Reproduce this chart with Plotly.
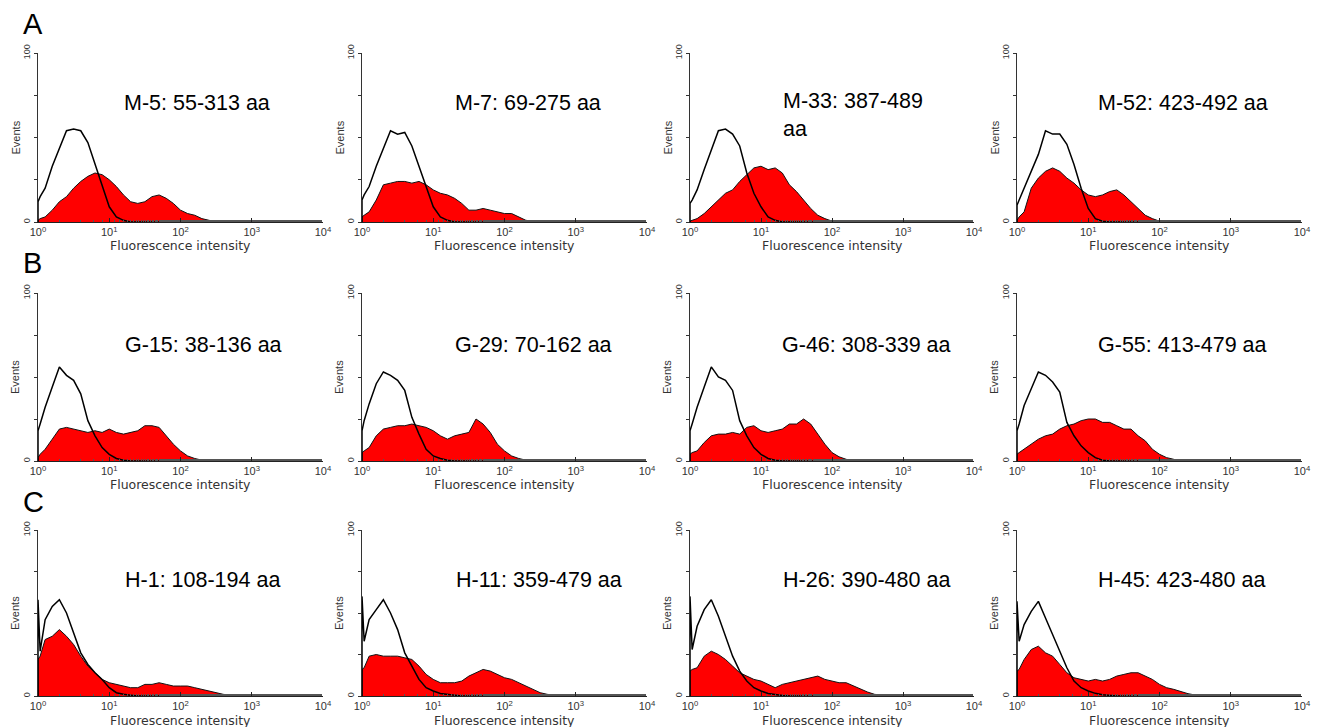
import plotly.graph_objects as go

# ---------------- data ----------------
# bin positions in log10(fluorescence intensity)
log_bins = [0, 0.03, 0.1, 0.2, 0.3, 0.4, 0.5, 0.6, 0.7, 0.8, 0.9, 1.0, 1.1, 1.2, 1.3,
            1.4, 1.5, 1.6, 1.7, 1.8, 1.9, 2.0, 2.1, 2.2, 2.3, 2.4, 2.5, 2.6, 2.7, 2.8]

panel_letters = ["A", "B", "C"]
panel_titles = [
    "M-5: 55-313 aa", "M-7: 69-275 aa", "M-33: 387-489<br>aa", "M-52: 423-492 aa",
    "G-15: 38-136 aa", "G-29: 70-162 aa", "G-46: 308-339 aa", "G-55: 413-479 aa",
    "H-1: 108-194 aa", "H-11: 359-479 aa", "H-26: 390-480 aa", "H-45: 423-480 aa",
]
x_tick_values = [1, 10, 100, 1000, 10000]
x_tick_labels = ["10<sup>0</sup>", "10<sup>1</sup>", "10<sup>2</sup>", "10<sup>3</sup>", "10<sup>4</sup>"]
y_tick_values = [0, 100]
y_tick_labels = ["0", "100"]
y_minor_values = [25, 50, 75]

# control (isotype) histograms - black outline
m5_control = [12, 15, 20, 33, 44, 54, 55, 54, 47, 34, 21, 9, 3, 1, 0, 0, 0, 0, 0, 0, 0, 0, 0, 0, 0, 0, 0, 0, 0, 0]
m7_control = [13, 16, 21, 33, 43, 54, 52, 53, 45, 33, 21, 9, 3, 1, 0, 0, 0, 0, 0, 0, 0, 0, 0, 0, 0, 0, 0, 0, 0, 0]
m33_control = [11, 13, 19, 31, 43, 54, 55, 52, 45, 29, 17, 9, 3, 1, 0, 0, 0, 0, 0, 0, 0, 0, 0, 0, 0, 0, 0, 0, 0, 0]
m52_control = [10, 13, 20, 30, 40, 54, 52, 52, 46, 34, 20, 8, 2, 0.5, 0, 0, 0, 0, 0, 0, 0, 0, 0, 0, 0, 0, 0, 0, 0, 0]
g15_control = [18, 22, 32, 44, 56, 51, 48, 40, 24, 15, 8, 4, 1.5, 0.5, 0, 0, 0, 0, 0, 0, 0, 0, 0, 0, 0, 0, 0, 0, 0, 0]
g29_control = [18, 24, 34, 46, 53, 51, 48, 42, 26, 16, 7, 3, 1.5, 0.5, 0, 0, 0, 0, 0, 0, 0, 0, 0, 0, 0, 0, 0, 0, 0, 0]
g46_control = [18, 22, 32, 44, 56, 50, 48, 42, 24, 15, 8, 4, 1.5, 0.5, 0, 0, 0, 0, 0, 0, 0, 0, 0, 0, 0, 0, 0, 0, 0, 0]
g55_control = [18, 22, 33, 43, 53, 51, 47, 41, 23, 15, 9, 5, 2, 0.5, 0, 0, 0, 0, 0, 0, 0, 0, 0, 0, 0, 0, 0, 0, 0, 0]
h1_control = [58, 27, 46, 54, 58, 50, 38, 26, 19, 14, 10, 5, 2, 1, 0.5, 0, 0, 0, 0, 0, 0, 0, 0, 0, 0, 0, 0, 0, 0, 0]
h11_control = [60, 33, 46, 52, 58, 50, 40, 26, 18, 10, 5, 3, 1.5, 0.8, 0.5, 0, 0, 0, 0, 0, 0, 0, 0, 0, 0, 0, 0, 0, 0, 0]
h26_control = [60, 28, 42, 52, 58, 48, 36, 24, 15, 9, 5, 3, 1.5, 0.8, 0.3, 0, 0, 0, 0, 0, 0, 0, 0, 0, 0, 0, 0, 0, 0, 0]
h45_control = [57, 33, 43, 51, 57, 47, 37, 27, 17, 9, 5, 3, 1.6, 0.8, 0.3, 0, 0, 0, 0, 0, 0, 0, 0, 0, 0, 0, 0, 0, 0, 0]

# antibody-stained histograms - red filled
m5_sample = [1, 2, 3, 7, 12, 15, 20, 24, 27, 29, 28, 25, 21, 16, 12, 11, 12, 15, 16, 14, 11, 7, 5, 4, 2, 1, 0, 0, 0, 0]
m7_sample = [3, 4, 6, 13, 22, 23, 24, 24, 23, 24, 22, 19, 17, 16, 14, 11, 7, 7, 8, 7, 6, 5, 5, 3, 1, 0.5, 0, 0, 0, 0]
m33_sample = [0.5, 1, 2, 5, 9, 13, 17, 19, 24, 28, 32, 33, 31, 32, 29, 22, 18, 13, 8, 4, 2, 0.5, 0, 0, 0, 0, 0, 0, 0, 0]
m52_sample = [1, 3, 6, 20, 26, 30, 32, 30, 26, 23, 19, 16, 15, 16, 18, 19, 16, 12, 8, 4, 2, 0.5, 0, 0, 0, 0, 0, 0, 0, 0]
g15_sample = [2, 4, 7, 13, 19, 20, 19, 18, 17, 18, 17, 19, 17, 16, 17, 18, 21, 21, 20, 15, 10, 6, 3, 1.5, 0.5, 0, 0, 0, 0, 0]
g29_sample = [5, 6, 8, 15, 19, 20, 21, 21, 22, 21, 20, 18, 15, 13, 15, 16, 17, 25, 22, 17, 10, 6, 3, 1.5, 0.5, 0, 0, 0, 0, 0]
g46_sample = [4, 5, 6, 11, 15, 16, 16, 17, 16, 20, 21, 18, 17, 18, 19, 22, 22, 25, 22, 16, 10, 5, 2.5, 1, 0, 0, 0, 0, 0, 0]
g55_sample = [4, 5, 7, 10, 13, 15, 16, 19, 21, 22, 24, 25, 25, 23, 23, 21, 19, 19, 15, 12, 7, 4, 2, 1, 0, 0, 0, 0, 0, 0]
h1_sample = [22, 24, 34, 36, 40, 36, 31, 24, 18, 14, 10, 8, 7, 6, 5, 5, 7, 7, 8, 7, 6, 6, 6, 5, 4, 3, 2, 1, 0.5, 0]
h11_sample = [16, 17, 24, 25, 24, 24, 24, 23, 22, 18, 13, 10, 8, 8, 8, 9, 12, 14, 16, 15, 13, 11, 10, 8, 6, 4, 2, 1, 0.4, 0]
h26_sample = [15, 16, 17, 24, 27, 25, 22, 18, 14, 12, 10, 9, 7, 5, 7, 8, 9, 10, 11, 12, 10, 9, 8, 8, 6, 4, 2.4, 1, 0.4, 0]
h45_sample = [15, 16, 22, 28, 30, 26, 24, 19, 14, 11, 10, 9, 10, 9, 10, 12, 13, 14, 14, 12, 10, 7, 5, 4, 2.6, 1.4, 0.6, 0.2, 0, 0]

controls = [m5_control, m7_control, m33_control, m52_control,
            g15_control, g29_control, g46_control, g55_control,
            h1_control, h11_control, h26_control, h45_control]
samples = [m5_sample, m7_sample, m33_sample, m52_sample,
           g15_sample, g29_sample, g46_sample, g55_sample,
           h1_sample, h11_sample, h26_sample, h45_sample]

# ---------------- layout geometry (screen pixels) ----------------
PAGE_W, PAGE_H = 1330, 727
BODY_MARGIN = 8  # default page margin around the plot div
W, H = PAGE_W - BODY_MARGIN, PAGE_H - BODY_MARGIN
col_px = [(38, 323), (362, 647), (690, 974), (1017, 1302)]
row_px = [(53, 222), (293, 461), (530, 696)]
title_px = [(122, 103), (453, 103), (781, 115), (1096, 103),
            (123, 345), (453, 345), (780, 345), (1096, 345),
            (123, 580), (454, 580), (781, 580), (1096, 580)]
letter_px = [(22, 24), (22, 263), (22, 502)]

FONT = "Arial, 'Liberation Sans', sans-serif"
WIDE = "'DejaVu Sans', Verdana, sans-serif"


def px_x(x):
    return (x - BODY_MARGIN) / W


def px_y(y):
    return 1 - (y - BODY_MARGIN) / H


fig = go.Figure()
annotations = []
layout_axes = {}

intensity = [10 ** g for g in log_bins]

for i in range(12):
    r, c = divmod(i, 4)
    n = i + 1
    xa = "x" if n == 1 else f"x{n}"
    ya = "y" if n == 1 else f"y{n}"

    xs = [1] + intensity
    fig.add_trace(go.Scatter(
        x=xs, y=[0] + samples[i], xaxis=xa, yaxis=ya, mode="lines",
        fill="tozeroy", fillcolor="#ff0000",
        line=dict(color="#111111", width=1), hoverinfo="skip", showlegend=False))
    fig.add_trace(go.Scatter(
        x=xs, y=[0] + controls[i], xaxis=xa, yaxis=ya, mode="lines",
        line=dict(color="#000000", width=1.5), hoverinfo="skip", showlegend=False))

    x0, x1 = col_px[c]
    y0, y1 = row_px[r]
    xkey = "xaxis" if n == 1 else f"xaxis{n}"
    ykey = "yaxis" if n == 1 else f"yaxis{n}"
    layout_axes[xkey] = dict(
        type="log", range=[0, 4], domain=[px_x(x0), px_x(x1)], anchor=ya,
        automargin=False,
        showline=True, linecolor="#222222", linewidth=1, mirror=False,
        showgrid=False, zeroline=False,
        ticks="inside", ticklen=4, tickcolor="#222222",
        tickvals=x_tick_values, ticktext=x_tick_labels,
        tickfont=dict(family=FONT, size=11, color="#333333"),
        minor=dict(ticks="inside", ticklen=2, tickcolor="#555555", showgrid=False),
        fixedrange=True,
    )
    layout_axes[ykey] = dict(
        range=[0, 100], domain=[px_y(y1), px_y(y0)], anchor=xa,
        automargin=False,
        showline=True, linecolor="#333333", linewidth=1,
        showgrid=False, zeroline=False,
        ticks="outside", ticklen=3, tickcolor="#333333",
        tickvals=y_tick_values, ticktext=y_tick_labels, tickangle=-90,
        tickfont=dict(family=FONT, size=9, color="#333333"),
        minor=dict(tickvals=y_minor_values, ticks="outside", ticklen=3,
                   tickcolor="#333333", showgrid=False),
        fixedrange=True,
    )

    # axis titles
    annotations.append(dict(
        text="Fluorescence intensity", x=px_x((x0 + x1) / 2), y=px_y(y1 + 24),
        xref="paper", yref="paper", xanchor="center", yanchor="middle",
        showarrow=False, font=dict(family=WIDE, size=12.5, color="#333333")))
    annotations.append(dict(
        text="Events", x=px_x(x0 - 23), y=px_y((y0 + y1) / 2),
        xref="paper", yref="paper", xanchor="center", yanchor="middle",
        textangle=-90, showarrow=False, font=dict(family=FONT, size=11, color="#333333")))
    # panel title
    tx, ty = title_px[i]
    annotations.append(dict(
        text=panel_titles[i], x=px_x(tx), y=px_y(ty),
        xref="paper", yref="paper", xanchor="left", yanchor="middle", align="left",
        showarrow=False, font=dict(family=FONT, size=21.5, color="#000000")))

for k, letter in enumerate(panel_letters):
    lx, ly = letter_px[k]
    annotations.append(dict(
        text=letter, x=px_x(lx), y=px_y(ly), xref="paper", yref="paper",
        xanchor="left", yanchor="middle", showarrow=False, borderpad=0,
        font=dict(family=FONT, size=29, color="#000000")))

fig.update_layout(
    width=W, height=H, margin=dict(l=0, r=0, t=0, b=0, pad=0),
    autosize=False,
    paper_bgcolor="white", plot_bgcolor="white",
    showlegend=False, hovermode=False,
    annotations=annotations,
    **layout_axes,
)

fig.write_html("out.html", config={"displayModeBar": False})
